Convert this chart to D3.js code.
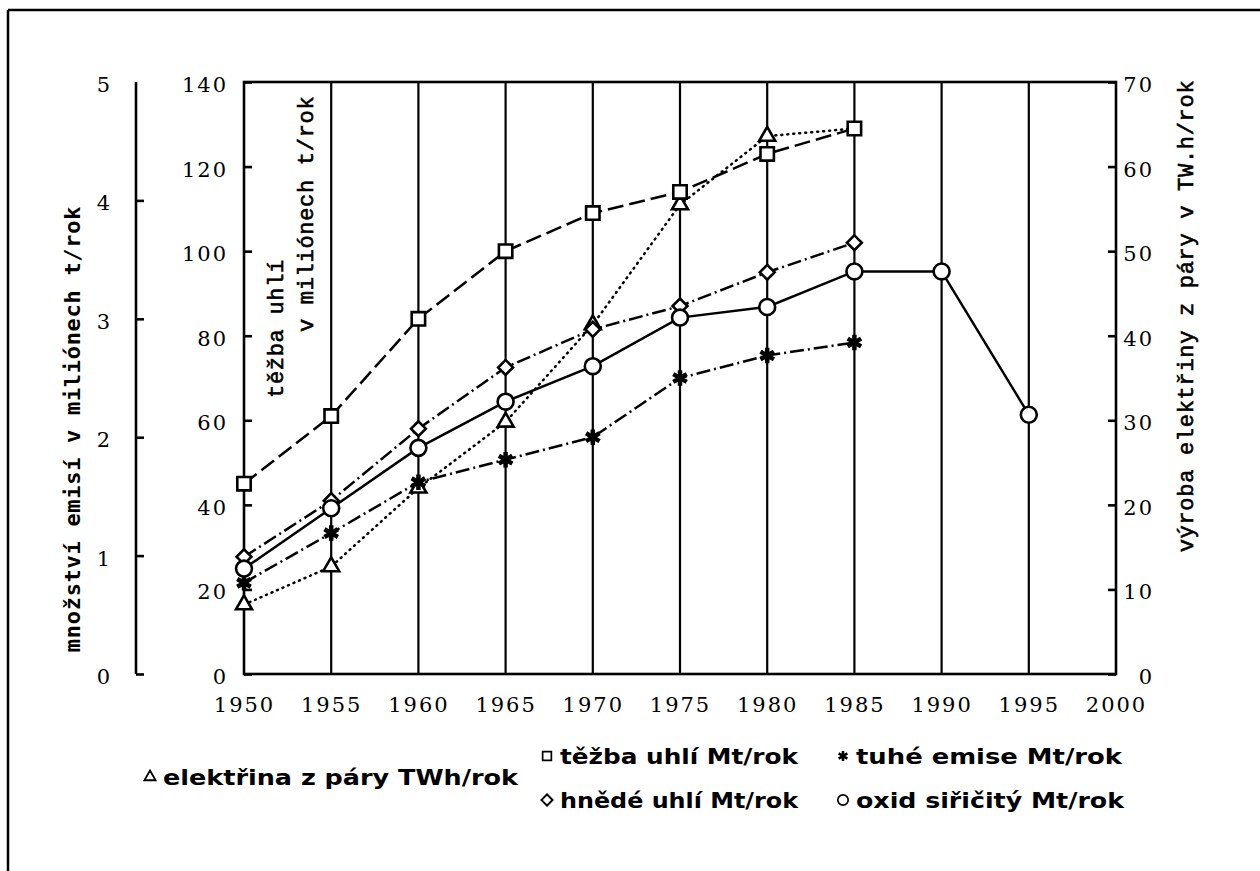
<!DOCTYPE html>
<html>
<head>
<meta charset="utf-8">
<script src="https://cdn.jsdelivr.net/npm/d3@7"></script>
<style>
body { margin: 0; background: #fff; }
svg { display: block; }
</style>
</head>
<body>
<div id="svg_wrapper"></div>
<script>
// data
const years = [1950, 1955, 1960, 1965, 1970, 1975, 1980, 1985];
const yearsSO2 = [1950, 1955, 1960, 1965, 1970, 1975, 1980, 1985, 1990, 1995];

const tezbaUhli = [45, 61, 84, 100, 109, 114, 123, 129];          // Mt/rok, left axis
const hnedeUhli = [27.7, 41, 58, 72.5, 81.5, 87, 95, 102];        // Mt/rok, left axis
const elektrina = [8.2, 12.7, 22, 29.8, 41.3, 55.5, 63.6, 64.5];  // TWh/rok, right axis
const tuheEmise = [0.77, 1.19, 1.62, 1.81, 2.0, 2.5, 2.69, 2.8];   // Mt/rok, emission axis
const oxidSiricity = [0.89, 1.40, 1.91, 2.30, 2.60, 3.01, 3.10, 3.40, 3.40, 2.19];

const xTicks = [1950, 1955, 1960, 1965, 1970, 1975, 1980, 1985, 1990, 1995, 2000];
const leftTicks = [0, 20, 40, 60, 80, 100, 120, 140];
const rightTicks = [0, 10, 20, 30, 40, 50, 60, 70];
const emisTicks = [0, 1, 2, 3, 4, 5];

const legendNames = [
    'elektřina z páry TWh/rok',
    'těžba uhlí Mt/rok',
    'tuhé emise Mt/rok',
    'hnědé uhlí Mt/rok',
    'oxid siřičitý Mt/rok'
];

const width = 1260, height = 871;
const plotLeft = 244, plotRight = 1116, plotTop = 82, plotBottom = 674;
const emisX = 136;

const svg = d3.select('#svg_wrapper')
    .append('svg')
    .attr('width', width)
    .attr('height', height);

const x = d3.scaleLinear().domain([1950, 2000]).range([plotLeft, plotRight]);
const yLeft = d3.scaleLinear().domain([0, 140]).range([plotBottom, plotTop]);
const yRight = d3.scaleLinear().domain([0, 70]).range([plotBottom, plotTop]);
const yEmis = d3.scaleLinear().domain([0, 5]).range([plotBottom, plotTop]);

const numFont = "'DejaVu Serif', serif";
const monoFont = "'DejaVu Sans Mono', monospace";
const serifMono = "'Liberation Mono', 'DejaVu Sans Mono', monospace";
const legendFont = "'DejaVu Sans Condensed', 'Liberation Sans Narrow', sans-serif";

// outer frame (only top and left edges are visible)
svg.append('line')
    .attr('x1', 8).attr('x2', width).attr('y1', 10).attr('y2', 10)
    .attr('stroke', '#000').attr('stroke-width', 2.5);
svg.append('line')
    .attr('x1', 8).attr('x2', 8).attr('y1', 10).attr('y2', height)
    .attr('stroke', '#000').attr('stroke-width', 2.5);

// vertical grid lines
svg.append('g')
    .selectAll('line')
    .data(xTicks.slice(1, -1))
    .enter()
    .append('line')
    .attr('x1', d => x(d)).attr('x2', d => x(d))
    .attr('y1', plotTop).attr('y2', plotBottom)
    .attr('stroke', '#000')
    .attr('stroke-width', 2.2);

// plot frame
svg.append('rect')
    .attr('x', plotLeft).attr('y', plotTop)
    .attr('width', plotRight - plotLeft).attr('height', plotBottom - plotTop)
    .attr('fill', 'none')
    .attr('stroke', '#000')
    .attr('stroke-width', 2.6);

function styleAxis(g) {
    g.selectAll('.domain').remove();
    g.selectAll('.tick line').attr('stroke', '#000').attr('stroke-width', 2.6);
    g.selectAll('.tick text')
        .attr('fill', '#000')
        .style('font-family', numFont)
        .style('font-size', '21px')
        .style('letter-spacing', '2px');
}

// bottom axis (years)
svg.append('g')
    .attr('transform', `translate(0,${plotBottom})`)
    .call(d3.axisBottom(x).tickValues(xTicks).tickFormat(d3.format('d')).tickSize(0))
    .call(styleAxis)
    .call(g => g.selectAll('.tick text').attr('y', 38).attr('dy', 0));

// left main axis, ticks pointing inside
svg.append('g')
    .attr('transform', `translate(${plotLeft},0)`)
    .call(d3.axisRight(yLeft).tickValues(leftTicks).tickSize(8))
    .call(styleAxis)
    .call(g => g.selectAll('.tick text')
        .attr('x', -16).attr('dy', '0.45em').attr('text-anchor', 'end'));

// right axis
svg.append('g')
    .attr('transform', `translate(${plotRight},0)`)
    .call(d3.axisLeft(yRight).tickValues(rightTicks).tickSize(8))
    .call(styleAxis)
    .call(g => g.selectAll('.tick text')
        .attr('x', 38).attr('dy', '0.45em').attr('text-anchor', 'end'));

// emission axis (separate line on far left)
const emisAxis = svg.append('g')
    .attr('transform', `translate(${emisX},0)`)
    .call(d3.axisRight(yEmis).tickValues(emisTicks).tickFormat(d3.format('d')).tickSize(8))
    .call(styleAxis)
    .call(g => g.selectAll('.tick text')
        .attr('x', -24).attr('dy', '0.45em').attr('text-anchor', 'end'));
emisAxis.selectAll('.tick line').filter(d => d === 5).remove();
emisAxis.append('line')
    .attr('x1', 0).attr('x2', 0)
    .attr('y1', yEmis(5)).attr('y2', yEmis(0))
    .attr('stroke', '#000').attr('stroke-width', 2.6);

// axis titles
function rotatedLabel(tx, ty, text, anchor, font, weight, thicken) {
    svg.append('text')
        .attr('transform', `translate(${tx},${ty}) rotate(-90)`)
        .attr('text-anchor', anchor)
        .attr('dy', '0.35em')
        .style('font-family', font)
        .style('font-weight', weight)
        .style('font-size', '22px')
        .style('letter-spacing', '0.7px')
        .attr('fill', '#000')
        .attr('stroke', thicken ? '#000' : 'none')
        .attr('stroke-width', thicken ? 0.6 : 0)
        .text(text);
}
rotatedLabel(72, 429, 'množství emisí v miliónech t/rok', 'middle', monoFont, 'bold', false);
rotatedLabel(1185, 316, 'výroba elektřiny z páry v TW.h/rok', 'middle', serifMono, 'normal', true);
rotatedLabel(275, 398, 'těžba uhlí', 'start', serifMono, 'normal', true);
rotatedLabel(305, 332, 'v miliónech t/rok', 'start', serifMono, 'normal', true);

// series
function drawLine(xs, values, yScale, dash) {
    const line = d3.line()
        .x((d, i) => x(xs[i]))
        .y(d => yScale(d));
    svg.append('path')
        .datum(values)
        .attr('d', line)
        .attr('fill', 'none')
        .attr('stroke', '#000')
        .attr('stroke-width', 2.5)
        .attr('stroke-dasharray', dash)
        .attr('stroke-linecap', dash === '1,5' ? 'round' : 'butt');
}

const symTriangle = d3.symbol().type(d3.symbolTriangle).size(110);
const symSquare = d3.symbol().type(d3.symbolSquare).size(180);
const symDiamond = d3.symbol().type(d3.symbolSquare).size(110);
const symCircle = d3.symbol().type(d3.symbolCircle).size(200);
const symStar = d3.symbol().type(d3.symbolAsterisk).size(170);

function drawMarkers(xs, values, yScale, sym, rotate, filled) {
    svg.append('g')
        .selectAll('path')
        .data(values)
        .enter()
        .append('path')
        .attr('d', sym)
        .attr('transform', (d, i) => `translate(${x(xs[i])},${yScale(d)}) rotate(${rotate})`)
        .attr('fill', filled ? '#000' : '#fff')
        .attr('stroke', '#000')
        .attr('stroke-width', filled ? 4.5 : 2.6);
}

drawLine(years, elektrina, yRight, '1,5');
drawLine(years, tezbaUhli, yLeft, '16,6');
drawLine(years, hnedeUhli, yLeft, '14,4,2,4');
drawLine(years, tuheEmise, yEmis, '14,4,2,4');
drawLine(yearsSO2, oxidSiricity, yEmis, null);

// last triangle lies under the 1985 square
drawMarkers(years.slice(0, -1), elektrina.slice(0, -1), yRight, symTriangle, 0, false);
drawMarkers(years, tuheEmise, yEmis, symStar, 0, true);
drawMarkers(years, hnedeUhli, yLeft, symDiamond, 45, false);
drawMarkers(yearsSO2, oxidSiricity, yEmis, symCircle, 0, false);
drawMarkers(years, tezbaUhli, yLeft, symSquare, 0, false);

// legend
const legendSyms = [
    { sym: symTriangle, rot: 0, filled: false, scale: 0.7 },
    { sym: symSquare, rot: 0, filled: false, scale: 0.65 },
    { sym: symStar, rot: 0, filled: true, scale: 0.65 },
    { sym: symDiamond, rot: 45, filled: false, scale: 0.75 },
    { sym: symCircle, rot: 0, filled: false, scale: 0.65 }
];
const legendPos = [
    { x: 150, y: 777, w: 355 },
    { x: 547, y: 756, w: 238 },
    { x: 843, y: 756, w: 266 },
    { x: 547, y: 800, w: 238 },
    { x: 843, y: 800, w: 268 }
];

const legend = svg.append('g')
    .selectAll('g')
    .data(legendNames)
    .enter()
    .append('g')
    .attr('transform', (d, i) => `translate(${legendPos[i].x},${legendPos[i].y})`);

legend.append('path')
    .attr('d', (d, i) => legendSyms[i].sym())
    .attr('transform', (d, i) => `rotate(${legendSyms[i].rot}) scale(${legendSyms[i].scale})`)
    .attr('fill', (d, i) => legendSyms[i].filled ? '#000' : '#fff')
    .attr('stroke', '#000')
    .attr('stroke-width', (d, i) => legendSyms[i].filled ? 4 : 2.6);

legend.append('text')
    .attr('x', 13)
    .attr('dy', '0.36em')
    .attr('textLength', (d, i) => legendPos[i].w)
    .attr('lengthAdjust', 'spacingAndGlyphs')
    .style('font-family', legendFont)
    .style('font-weight', 'bold')
    .style('font-size', '21px')
    .attr('fill', '#000')
    .text(d => d);
</script>
</body>
</html>
